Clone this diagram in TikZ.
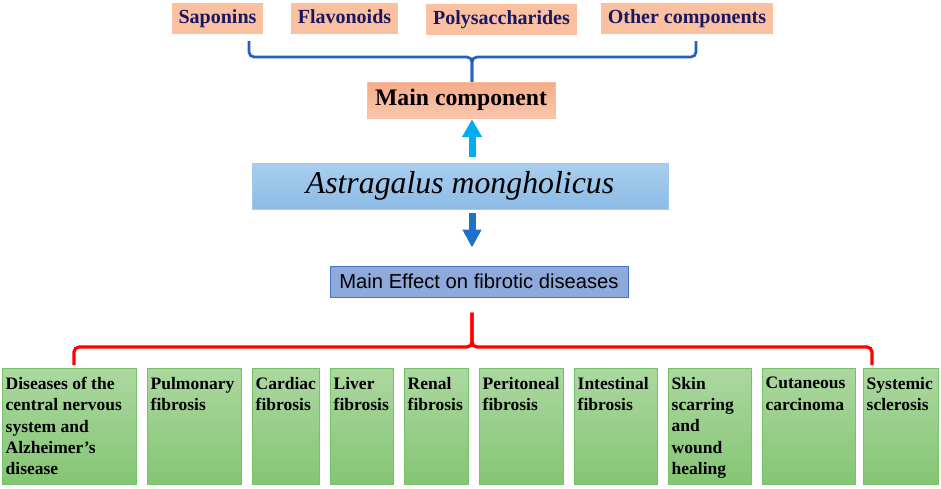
\documentclass[tikz,border=0pt]{standalone}
\usepackage{fontspec}
\setmainfont{Liberation Serif}
\newfontfamily\effectfont{Liberation Sans}
\usetikzlibrary{arrows.meta,calc}
\definecolor{peach}{RGB}{250,192,160}
\definecolor{navytext}{RGB}{24,24,98}
\definecolor{braceblue}{RGB}{34,96,192}
\definecolor{skyarrow}{RGB}{0,174,239}
\definecolor{deeparrow}{RGB}{30,112,200}
\definecolor{effectfill}{RGB}{142,169,219}
\definecolor{effectline}{RGB}{72,114,196}
\definecolor{greenline}{RGB}{118,194,104}
\begin{document}
\begin{tikzpicture}[x=1pt,y=-1pt,
        compbox/.style={fill=peach,minimum height=31,text height=14,text depth=4,inner sep=0,
            font=\fontsize{20}{24}\selectfont\bfseries,text=navytext},
        mainbox/.style={top color={rgb,255:red,245;green,172;blue,136},bottom color={rgb,255:red,250;green,198;blue,172},
            draw={rgb,255:red,248;green,190;blue,160},minimum width=188,minimum height=36,inner sep=0,
            font=\fontsize{23.7}{28}\selectfont\bfseries},
        plantbox/.style={top color={rgb,255:red,170;green,206;blue,239},bottom color={rgb,255:red,140;green,187;blue,229},
            draw={rgb,255:red,160;green,200;blue,236},minimum width=416,minimum height=46,inner sep=0,
            font=\fontsize{31.8}{36}\selectfont\itshape},
        effectbox/.style={fill=effectfill,draw=effectline,line width=1,minimum width=298,minimum height=31,inner sep=0,
            font=\effectfont\fontsize{20.2}{24}\selectfont},
        disease/.style={top color={rgb,255:red,172;green,216;blue,160},bottom color={rgb,255:red,132;green,197;blue,116},
            draw=greenline,anchor=north west,inner xsep=3.5,inner ysep=9,
            font=\fontsize{17.5}{21.3}\selectfont\bfseries},
        brace/.style={line width=2.7,rounded corners=5,color=braceblue},
        redbrace/.style={line width=3.2,rounded corners=5,color=red}]
    \useasboundingbox (0,0) rectangle (941,488);
    % components
    \node [compbox,minimum width=91] (sap) at (217.5,18) {Saponins};
    \node [compbox,minimum width=107] (fla) at (344.5,18.5) {Flavonoids};
    \node [compbox,minimum width=151] (pol) at (501.5,19.5) {Polysaccharides};
    \node [compbox,minimum width=172] (oth) at (687,18.5) {Other components};
    \node [mainbox] (main) at (461,100) {Main component};
    \node [plantbox] (plant) at (460,186) {Astragalus mongholicus};
    \node [effectbox] (effect) at (479,281.5) {Main Effect on fibrotic diseases};
    % blue brace
    \coordinate (bl) at (249,41);
    \coordinate (br) at (696,41);
    \coordinate (bc) at (472,57);
    \draw [brace] (bl) |- (bc) -- (bc |- main.north);
    \draw [brace] (br) |- (bc) -- (bc |- main.north);
    % arrows
    \draw [-{Triangle[width=19pt,length=18pt]},line width=7,skyarrow,shorten <=6pt,shorten >=1pt] (plant.north -| bc) -- (main.south -| bc);
    \draw [-{Triangle[width=18pt,length=18pt]},line width=7,deeparrow,shorten <=4pt,shorten >=18pt] (plant.south -| bc) -- (effect.north -| bc);
    % diseases
    \foreach \i/\xl/\w/\txt in {1/2/134/{Diseases of the\\central nervous\\system and\\Alzheimer’s\\disease},
            2/147/94/{Pulmonary\\fibrosis},3/252/67/{Cardiac\\fibrosis},4/330/63/{Liver\\fibrosis},
            5/404/64/{Renal\\fibrosis},6/479/84/{Peritoneal\\fibrosis},7/574/83/{Intestinal\\fibrosis},
            8/668/83/{Skin\\scarring\\and\\wound\\healing},9/762/93/{Cutaneous\\carcinoma},10/863/75/{Systemic\\sclerosis}}
        \node [disease,minimum width=\w] (d\i) at (\xl,368) {\parbox[t][98pt][t]{\dimexpr\w pt-7pt\relax}{\raggedright\txt}};
    % red brace
    \coordinate (rl) at (74,365);
    \coordinate (rr) at (872,365);
    \coordinate (rc) at (472,347);
    \draw [redbrace] (rl) |- (rc) -- ($(rc |- effect.south)+(0,15)$);
    \draw [redbrace] (rr) |- (rc) -- ($(rc |- effect.south)+(0,15)$);
\end{tikzpicture}
\end{document}
